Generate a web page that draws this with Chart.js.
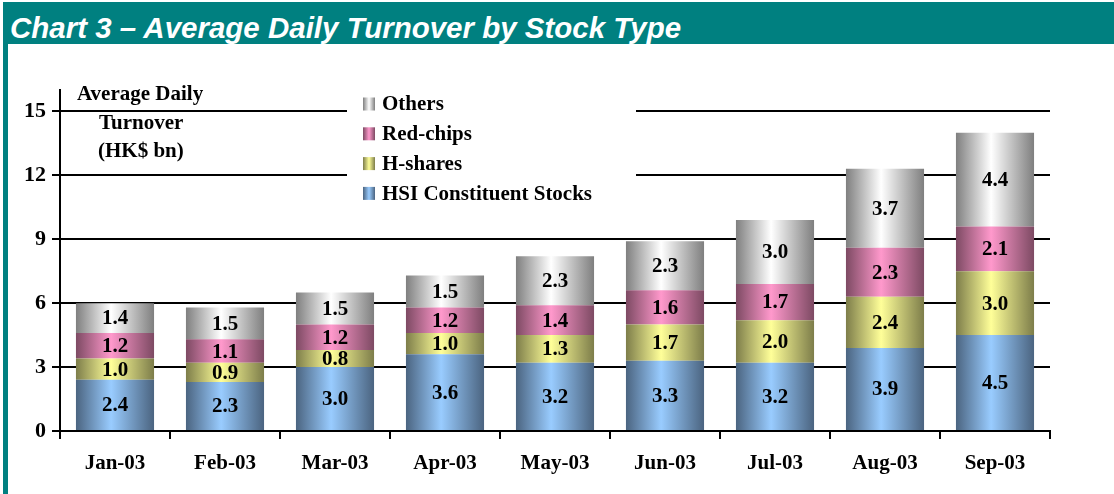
<!DOCTYPE html>
<html>
<head>
<meta charset="utf-8">
<script src="https://cdn.jsdelivr.net/npm/chart.js@4.4.1/dist/chart.umd.min.js"></script>
<style>
  html, body { margin: 0; padding: 0; background: #fff; }
  body { width: 1114px; height: 494px; position: relative; overflow: hidden; }
  #titlebar {
    position: absolute; left: 3px; top: 2px; width: 1111px; height: 42px;
    background: #008080; color: #fff;
    font: italic bold 29.5px "Liberation Sans", Arial, sans-serif;
    line-height: 42px; white-space: nowrap;
  }
  #titlebar span { display: inline-block; margin-left: 7px; transform: translateY(5px); }
  #leftbar { position: absolute; left: 3px; top: 44px; width: 5px; height: 450px; background: #008080; }
  #wrap { position: absolute; left: 0; top: 0; width: 1114px; height: 494px; }
</style>
</head>
<body>
<div id="titlebar"><span>Chart 3 – Average Daily Turnover by Stock Type</span></div>
<div id="leftbar"></div>
<div id="wrap"><canvas id="myChart"></canvas></div>
<script>
const months = ['Jan-03', 'Feb-03', 'Mar-03', 'Apr-03', 'May-03', 'Jun-03', 'Jul-03', 'Aug-03', 'Sep-03'];
const hsiStocks = [2.4, 2.3, 3.0, 3.6, 3.2, 3.3, 3.2, 3.9, 4.5];
const hShares   = [1.0, 0.9, 0.8, 1.0, 1.3, 1.7, 2.0, 2.4, 3.0];
const redChips  = [1.2, 1.1, 1.2, 1.2, 1.4, 1.6, 1.7, 2.3, 2.1];
const others    = [1.4, 1.5, 1.5, 1.5, 2.3, 2.3, 3.0, 3.7, 4.4];
const yTicks = [0, 3, 6, 9, 12, 15];
const yAxisTitle = ['Average Daily', 'Turnover', '(HK$ bn)'];

const FONT = '"Liberation Serif", "Times New Roman", serif';
const BAR_PCT = 0.71;

// horizontal shading across each bar: dark edges, light middle
function shade(dark, light) {
  return function(c) {
    const chart = c.chart;
    const area = chart.chartArea;
    if (!area || !chart.scales.x) return light;
    const x = chart.scales.x.getPixelForValue(c.dataIndex);
    const w = (area.right - area.left) / months.length * BAR_PCT;
    const g = chart.ctx.createLinearGradient(x - w / 2, 0, x + w / 2, 0);
    g.addColorStop(0, dark);
    g.addColorStop(0.45, light);
    g.addColorStop(1, dark);
    return g;
  };
}

const colours = {
  hsi:    ['#4b6480', '#99ccff'],
  hsh:    ['#7d7d4a', '#ffff99'],
  red:    ['#7d4a63', '#ff99cc'],
  others: ['#7f7f7f', '#ffffff'],
};

const labelsPlugin = {
  id: 'segLabels',
  afterDatasetsDraw(chart) {
    const ctx = chart.ctx;
    ctx.save();
    ctx.font = 'bold 21px ' + FONT;
    ctx.fillStyle = '#000';
    ctx.textAlign = 'center';
    ctx.textBaseline = 'middle';
    chart.data.datasets.forEach((ds, i) => {
      chart.getDatasetMeta(i).data.forEach((bar, j) => {
        const p = bar.getCenterPoint();
        ctx.fillText(ds.data[j].toFixed(1), p.x, p.y + 1);
      });
    });
    ctx.restore();
  },
  afterDraw(chart) {
    const ctx = chart.ctx;
    ctx.save();
    ctx.font = 'bold 21px ' + FONT;
    ctx.fillStyle = '#000';
    ctx.textBaseline = 'middle';
    ctx.textAlign = 'left';
    // axis title
    ctx.fillText(yAxisTitle[0], 77, 95);
    ctx.fillText(yAxisTitle[1], 99, 124);
    ctx.fillText(yAxisTitle[2], 98, 152);

    // legend box
    ctx.fillStyle = '#fff';
    ctx.fillRect(347, 90, 289, 122);
    const rows = chart.data.datasets.slice().reverse();
    rows.forEach((ds, k) => {
      const cy = 104 + k * 29.8;
      const g = ctx.createLinearGradient(363, 0, 375, 0);
      g.addColorStop(0, ds.swatch[0]);
      g.addColorStop(0.5, ds.swatch[1]);
      g.addColorStop(1, ds.swatch[0]);
      ctx.fillStyle = g;
      ctx.fillRect(363, cy - 6.5, 12, 13);
      ctx.fillStyle = '#000';
      ctx.fillText(ds.label, 382, cy + 1);
    });
    ctx.restore();
  }
};

function makeSet(label, data, col) {
  return {
    label: label,
    data: data,
    backgroundColor: shade(col[0], col[1]),
    swatch: col,
    borderWidth: 0,
    barPercentage: BAR_PCT,
    categoryPercentage: 1.0,
  };
}

const config = {
  type: 'bar',
  data: {
    labels: months,
    datasets: [
      makeSet('HSI Constituent Stocks', hsiStocks, colours.hsi),
      makeSet('H-shares', hShares, colours.hsh),
      makeSet('Red-chips', redChips, colours.red),
      makeSet('Others', others, colours.others),
    ]
  },
  options: {
    responsive: true,
    maintainAspectRatio: false,
    animation: false,
    layout: { padding: { left: 0, right: 64, top: 90, bottom: 0 } },
    plugins: {
      legend: { display: false },
      tooltip: { enabled: false },
    },
    scales: {
      x: {
        stacked: true,
        afterFit(s) { s.height = 63; },
        border: { color: '#000', width: 2 },
        grid: { offset: true, drawOnChartArea: false, color: '#000', lineWidth: 2, tickLength: 8 },
        ticks: { color: '#000', font: { family: FONT, size: 21, weight: 'bold' }, padding: 12, maxRotation: 0 },
      },
      y: {
        stacked: true,
        min: 0,
        max: 16,
        afterFit(s) { s.width = 60; },
        afterBuildTicks(s) { s.ticks = yTicks.map(v => ({ value: v })); },
        border: { color: '#000', width: 2 },
        grid: { color: '#000', lineWidth: 2, tickLength: 8 },
        ticks: { color: '#000', font: { family: FONT, size: 22, weight: 'bold' }, padding: 6 },
      }
    }
  },
  plugins: [labelsPlugin],
};

const myChart = new Chart(document.getElementById('myChart'), config);
</script>
</body>
</html>
